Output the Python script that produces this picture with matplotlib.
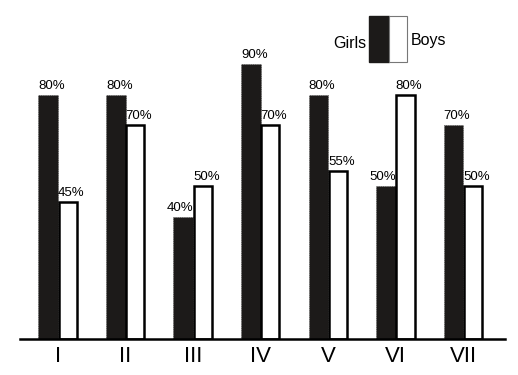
import numpy as np
import matplotlib.pyplot as plt
from matplotlib.patches import Rectangle

groups = ['I', 'II', 'III', 'IV', 'V', 'VI', 'VII']
girls = [80, 80, 40, 90, 80, 50, 70]
boys = [45, 70, 50, 70, 55, 80, 50]

plt.rcParams['font.family'] = ['Liberation Sans Narrow', 'Liberation Sans', 'DejaVu Sans']

fig = plt.figure(figsize=(5.18, 3.75), dpi=100)
ax = fig.add_axes([20 / 518, 36 / 375, 485 / 518, 339 / 375])

x = np.arange(len(groups))
w = 0.29
dark = '#1c1a19'

ax.bar(x - w / 2, girls, w, color=dark, edgecolor='#555555', linewidth=0.6, linestyle=':')
ax.bar(x + w / 2, boys, 0.27, color='white', edgecolor='black', linewidth=1.8)

for i in range(len(groups)):
    if girls[i] < boys[i]:
        ax.text(x[i], girls[i] + 1, '%d%%' % girls[i], ha='right', va='bottom', fontsize=9.5)
    else:
        ax.text(x[i] - w, girls[i] + 1, '%d%%' % girls[i], ha='left', va='bottom', fontsize=9.5)
    ax.text(x[i], boys[i] + 1, '%d%%' % boys[i], ha='left', va='bottom', fontsize=9.5)

ax.set_xlim(-0.563, 6.62)
ax.set_ylim(0, 111.1)
ax.set_xticks(x)
ax.set_xticklabels(groups, fontsize=16, family=['Liberation Sans', 'DejaVu Sans'])
ax.tick_params(axis='x', length=0, pad=5)
ax.set_yticks([])
for s in ['top', 'right', 'left']:
    ax.spines[s].set_visible(False)
ax.spines['bottom'].set_linewidth(1.8)

# legend
fig.add_artist(Rectangle((369 / 518, 313 / 375), 20 / 518, 46 / 375, transform=fig.transFigure,
                         facecolor=dark, edgecolor=dark))
fig.add_artist(Rectangle((389 / 518, 313 / 375), 18 / 518, 46 / 375, transform=fig.transFigure,
                         facecolor='white', edgecolor='#777777', linewidth=0.8))
fig.text(366 / 518, 332 / 375, 'Girls', ha='right', va='center', fontsize=11.5,
         family=['Liberation Sans', 'DejaVu Sans'])
fig.text(411 / 518, 335 / 375, 'Boys', ha='left', va='center', fontsize=11.5,
         family=['Liberation Sans', 'DejaVu Sans'])

fig.savefig('out.png', dpi=100)
